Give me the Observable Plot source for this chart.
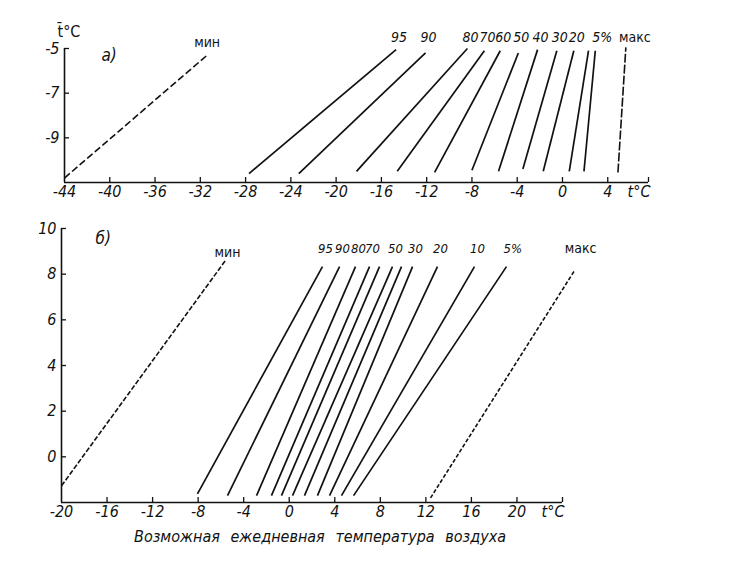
<!DOCTYPE html>
<html><head><meta charset="utf-8">
<script src="https://cdn.jsdelivr.net/npm/d3@7"></script>
<script src="https://cdn.jsdelivr.net/npm/@observablehq/plot@0.6"></script>
<style>
body{margin:0;background:#fff;}
#wrap{position:relative;width:744px;height:576px;overflow:hidden;font-family:"Liberation Sans Narrow","DejaVu Sans Condensed",sans-serif;color:#111;}
#pa,#pb{position:absolute;left:0;}
#pa{top:0;}
#pb{top:205px;}
#cap{position:absolute;top:527px;left:134px;width:372px;display:flex;justify-content:space-between;font-style:italic;font-size:16px;}
</style>
</head><body>
<div id="wrap"><div id="pa"></div><div id="pb"></div>
<div id="cap"><span>Возможная</span><span>ежедневная</span><span>температура</span><span>воздуха</span></div></div>
<script>
// ---------- panel а ----------
const aLabel = ["95","90","80","70","60","50","40","30","20","","5%"];
const aX1 = [-27.7,-23.3,-18.2,-14.6,-11.3,-8.0,-5.65,-3.5,-1.7,0.6,1.9];
const aY1 = [-10.6,-10.6,-10.5,-10.5,-10.55,-10.45,-10.5,-10.4,-10.5,-10.5,-10.5];
const aX2 = [-14.7,-12.1,-8.4,-6.9,-5.5,-3.9,-2.2,-0.5,1.0,2.3,2.9];
const aY2 = [-5.05,-5.2,-5.0,-5.1,-5.1,-5.2,-5.05,-5.1,-5.1,-5.1,-5.1];
const aEnvName = ["мин","макс"];
const aEnvX1 = [-44,4.9];
const aEnvY1 = [-10.8,-10.55];
const aEnvX2 = [-31.4,5.6];
const aEnvY2 = [-5.3,-4.95];
const aXTicks = [-44,-40,-36,-32,-28,-24,-20,-16,-12,-8,-4,0,4];
const aYTicks = [-5,-7,-9];
const aXDomain = [-44,7.6];
const aYDomain = [-11,-5];

// ---------- panel б ----------
const bLabel = ["95","90","80","70","","50","","30","20","10","5%"];
const bX1 = [-8.06,-5.42,-2.87,-1.56,-0.68,0.29,1.34,2.48,3.54,4.59,5.65];
const bY1 = [-1.62,-1.7,-1.7,-1.7,-1.7,-1.7,-1.7,-1.7,-1.7,-1.7,-1.7];
const bX2 = [2.92,4.42,5.82,7.05,7.93,9.07,9.86,10.83,13.02,16.27,19.08];
const bY2 = [8.33,8.33,8.33,8.33,8.33,8.33,8.33,8.33,8.33,8.33,8.33];
const bEnvName = ["мин","макс"];
const bEnvX1 = [-20,12.41];
const bEnvY1 = [-1.27,-1.8];
const bEnvX2 = [-5.6,25.06];
const bEnvY2 = [8.6,8.16];
const bXTicks = [-20,-16,-12,-8,-4,0,4,8,12,16,20];
const bYTicks = [0,2,4,6,8,10];
const bXDomain = [-20,24];
const bYDomain = [-2,10];

const INK = "#111";
const FONT = "'Liberation Sans Narrow','DejaVu Sans Condensed',sans-serif";

function panel(o) {
  const lines = o.label.map((l,i)=>({label:l,x1:o.x1[i],y1:o.y1[i],x2:o.x2[i],y2:o.y2[i]}));
  const env = o.envName.map((n,i)=>({label:n,x1:o.envX1[i],y1:o.envY1[i],x2:o.envX2[i],y2:o.envY2[i]}));
  const innerW = o.width - o.ml - o.mr, innerH = o.height - o.mt - o.mb;
  const pctLbl = lines.filter(d=>d.label && d.label!=="5%");
  const fiveLbl = lines.filter(d=>d.label==="5%");
  return Plot.plot({
    width:o.width, height:o.height,
    marginLeft:o.ml, marginRight:o.mr, marginTop:o.mt, marginBottom:o.mb,
    style:{fontFamily:FONT, fontSize:"16px", fontStyle:"italic", color:INK, background:"#fff", overflow:"visible"},
    x:{domain:o.xDomain}, y:{domain:o.yDomain},
    marks:[
      Plot.ruleY([o.yDomain[0]], {stroke:INK, strokeWidth:1.6}),
      Plot.ruleX([o.xDomain[0]], {stroke:INK, strokeWidth:1.6}),
      Plot.ruleX(o.xTicks.slice(1).concat([o.xDomain[1]]), {x:d=>d, stroke:INK, strokeWidth:1.3, insetTop:innerH-5}),
      Plot.ruleY(o.yTicks, {y:d=>d, stroke:INK, strokeWidth:1.3, insetRight:innerW-5}),
      Plot.axisX({ticks:o.xTicks, tickSize:0, tickPadding:3, tickFormat:d=>String(d), fontSize:16}),
      Plot.axisY({ticks:o.yTicks, tickSize:0, tickPadding:5, tickFormat:d=>String(d), fontSize:16, label:null}),
      Plot.link(lines, {x1:"x1", y1:"y1", x2:"x2", y2:"y2", stroke:INK, strokeWidth:1.7}),
      Plot.link(env.slice(0,1), {x1:"x1", y1:"y1", x2:"x2", y2:"y2", stroke:INK, strokeWidth:1.6, strokeDasharray:o.minDash}),
      Plot.link(env.slice(1), {x1:"x1", y1:"y1", x2:"x2", y2:"y2", stroke:INK, strokeWidth:1.6, strokeDasharray:o.maxDash}),
      Plot.text(pctLbl, {x:"x2", y:()=>o.labelY, text:"label", dx:3, fontSize:o.lblSize}),
      Plot.text(fiveLbl, {x:"x2", y:()=>o.labelY, text:"label", dx:-3, textAnchor:"start", fontSize:o.lblSize}),
      Plot.text(env, {x:"x2", y:(d,i)=>o.envLabelY[i], text:"label", dx:(d,i)=>0, fontSize:14, fontStyle:"normal", filter:(d,i)=>i===0, dx:o.envDx[0]}),
      Plot.text(env, {x:"x2", y:(d,i)=>o.envLabelY[i], text:"label", fontSize:14, fontStyle:"normal", filter:(d,i)=>i===1, dx:o.envDx[1]}),
      Plot.text([o.tag], {frameAnchor:"top-left", dx:o.tagDx, dy:o.tagDy, fontSize:17, textAnchor:"start"}),
      Plot.text(["t°C"], {frameAnchor:"bottom-right", dx:2, dy:3, textAnchor:"end", lineAnchor:"top", fontSize:16}),
      ...(o.yTitle ? [Plot.text([o.yTitle], {frameAnchor:"top-left", dx:-7, dy:-23, fontSize:16, fontStyle:"normal"})] : [])
    ]
  });
}

document.getElementById("pa").append(panel({
  label:aLabel, x1:aX1, y1:aY1, x2:aX2, y2:aY2,
  envName:aEnvName, envX1:aEnvX1, envY1:aEnvY1, envX2:aEnvX2, envY2:aEnvY2,
  xTicks:aXTicks, yTicks:aYTicks, xDomain:aXDomain, yDomain:aYDomain,
  width:744, height:205, ml:64, mr:96, mt:48, mb:23,
  minDash:"7,3", maxDash:"9,2", labelY:-4.5, envLabelY:[-4.73,-4.5], envDx:[0,9], lblSize:14,
  tag:"а)", tagDx:37, tagDy:0, yTitle:"t̄°C"
}));

document.getElementById("pb").append(panel({
  label:bLabel, x1:bX1, y1:bY1, x2:bX2, y2:bY2,
  envName:bEnvName, envX1:bEnvX1, envY1:bEnvY1, envX2:bEnvX2, envY2:bEnvY2,
  xTicks:bXTicks, yTicks:bYTicks, xDomain:bXDomain, yDomain:bYDomain,
  width:744, height:327, ml:61, mr:182, mt:23, mb:30,
  minDash:"5,2", maxDash:"4,2", labelY:9.12, envLabelY:[8.95,9.12], envDx:[2,6], lblSize:13,
  tag:"б)", tagDx:34, tagDy:3, yTitle:null
}));
</script>
</body></html>
